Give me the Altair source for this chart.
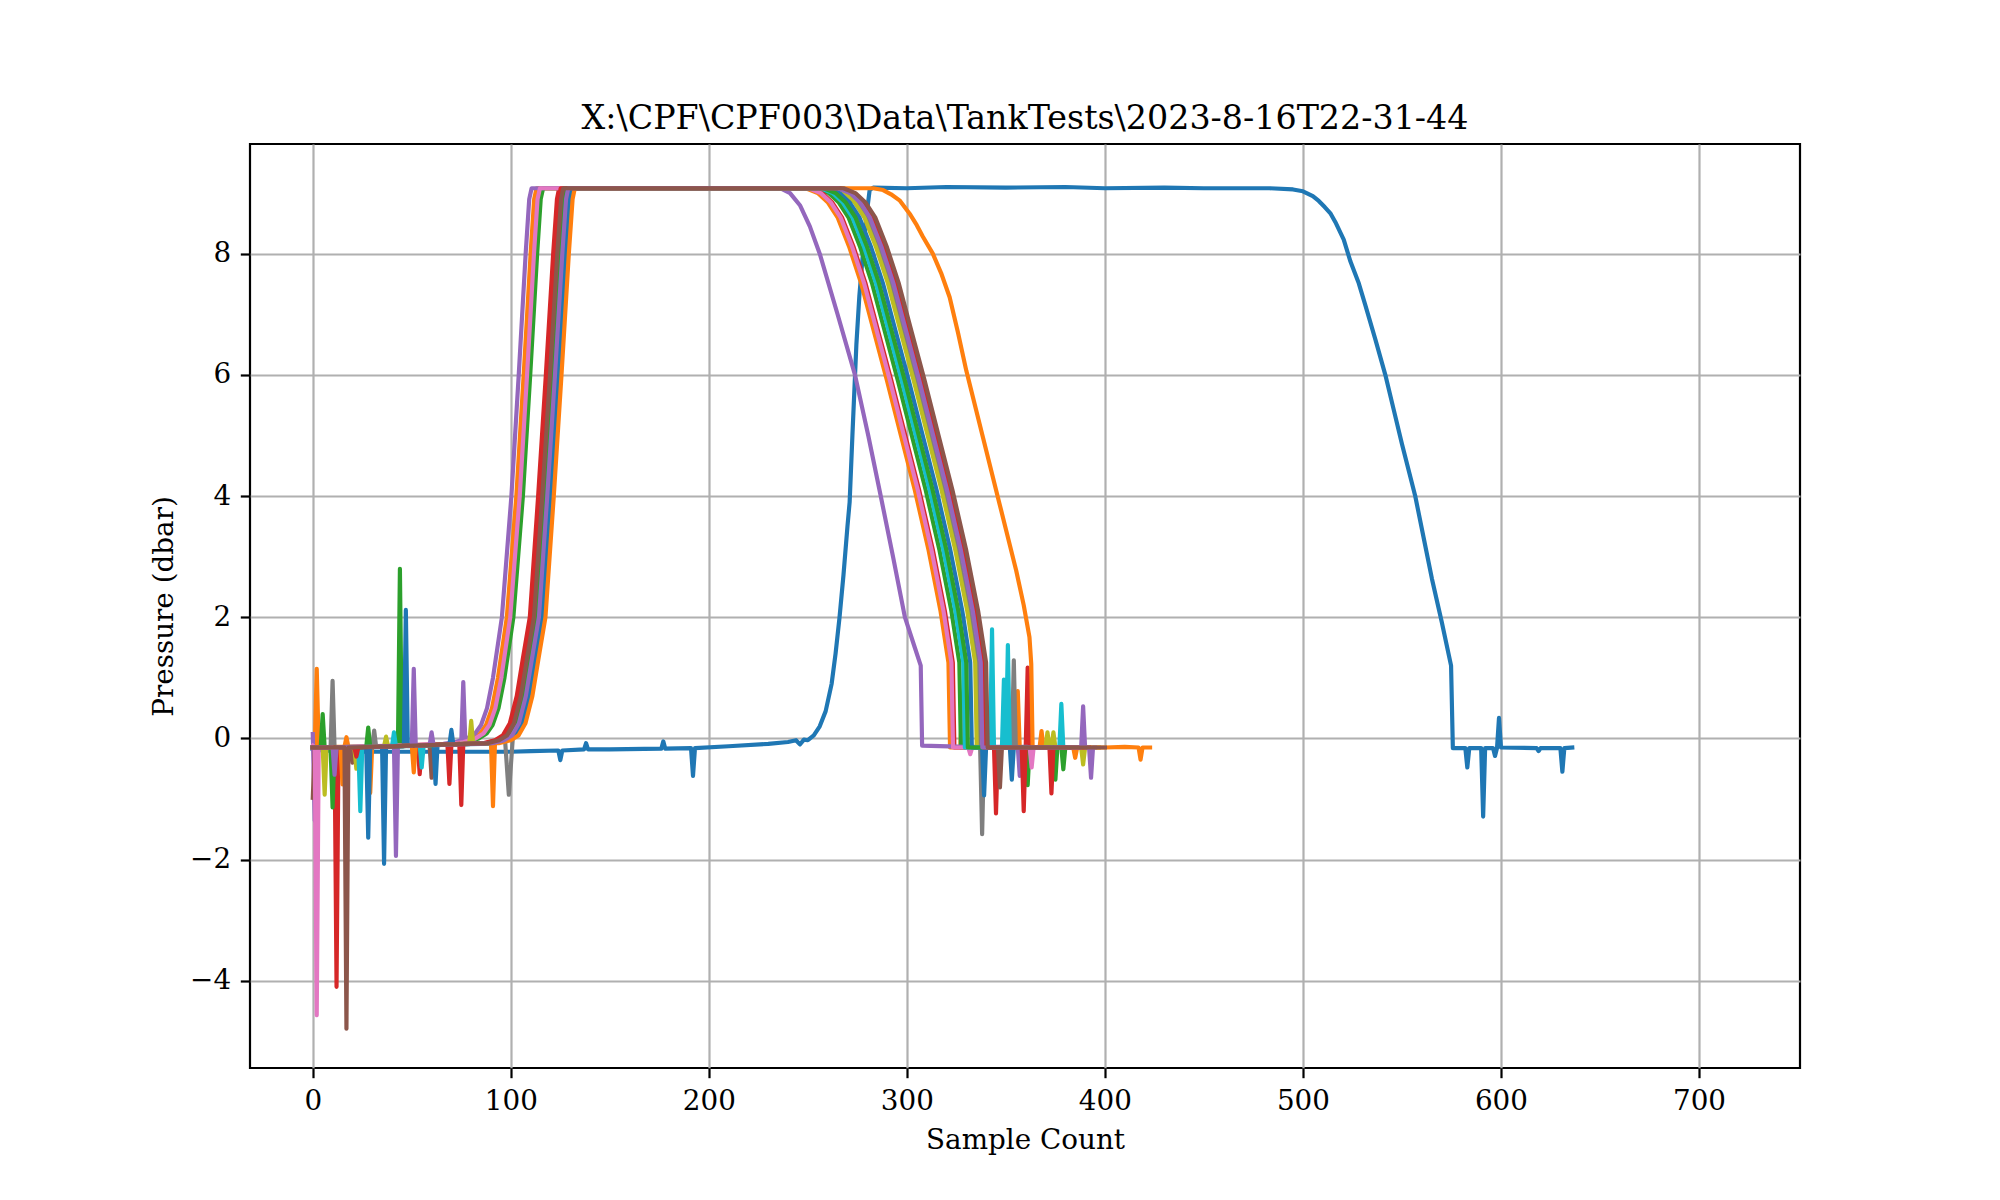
import altair as alt
import pandas as pd

TITLE = "X:\\CPF\\CPF003\\Data\\TankTests\\2023-8-16T22-31-44"
X_LABEL = "Sample Count"
Y_LABEL = "Pressure (dbar)"
TICKS_X = [0, 100, 200, 300, 400, 500, 600, 700]
TICKS_Y = [-4, -2, 0, 2, 4, 6, 8]
X_DOMAIN = [-31.7, 751.0]
Y_DOMAIN = [-5.44, 9.81]

COLORS = ["#1f77b4", "#ff7f0e", "#2ca02c", "#d62728", "#9467bd", "#8c564b",
          "#e377c2", "#7f7f7f", "#bcbd22", "#17becf", "#1f77b4", "#ff7f0e",
          "#2ca02c", "#d62728", "#9467bd", "#8c564b"]

S00 = [(0,-0.18),(5,-0.2),(20,-0.22),(40,-0.22),(60,-0.22),(80,-0.22),(100,-0.22),(110,-0.21),(124,-0.2),(125,-0.36),(126,-0.2),(137,-0.18),(138,-0.08),(139,-0.18),(150,-0.18),(176,-0.17),(177,-0.05),(178,-0.17),(191,-0.16),(192,-0.62),(193,-0.16),(210,-0.13),(230,-0.09),(240,-0.06),(244,-0.03),(246,-0.1),(248,-0.02),(250,-0.03),(253,0.05),(256,0.2),(259,0.45),(262,0.9),(264,1.4),(266,2.0),(268,2.7),(270,3.5),(271.1,3.9),(272.5,5.0),(274.5,6.5),(276,7.3),(277.8,8.0),(279.5,8.6),(281.2,9.05),(283,9.09),(300,9.08),(320,9.1),(350,9.09),(380,9.1),(400,9.08),(430,9.09),(450,9.08),(483,9.08),(495,9.06),(500,9.03),(505,8.95),(508,8.87),(511,8.77),(514,8.66),(516.4,8.52),(520.6,8.23),(524,7.87),(528.2,7.51),(531.5,7.15),(536.6,6.58),(541.6,6.0),(545.8,5.43),(550,4.86),(556.7,4.0),(560.9,3.32),(565.1,2.64),(570.1,1.92),(574.8,1.2),(575.7,-0.16),(582,-0.16),(583,-0.48),(584,-0.16),(590,-0.16),(591,-1.29),(592,-0.16),(596,-0.16),(597,-0.29),(598,-0.16),(599,0.34),(600,-0.15),(618,-0.16),(619,-0.21),(620,-0.16),(630,-0.16),(631,-0.55),(632,-0.16),(636,-0.15)]
S01 = [(0,-0.15),(1,-0.15),(2,1.15),(3,-0.15),(10,-0.14),(16,-0.14),(17,0.02),(18,-0.14),(28,-0.13),(29,-0.9),(30,-0.13),(45,-0.12),(60,-0.1),(68,-0.09),(74,-0.06),(80.5,0.0),(84.5,0.08),(87.5,0.22),(90.5,0.5),(93.5,1.0),(98,2.0),(102.8,4.0),(106.5,6.0),(110,8.0),(111.8,8.9),(113,9.08),(150,9.07),(200,9.08),(249,9.08),(255,9.0),(260,8.85),(265,8.6),(271,8.1),(277,7.5),(283.5,6.7),(290,5.9),(297,5.0),(304,4.1),(311,3.1),(317,2.1),(321,1.25),(321.8,-0.15),(327,-0.15),(328,0.59),(329,-0.15),(340,-0.15),(355,-0.15),(356,0.78),(357,-0.15),(367,-0.15),(368,0.12),(369,-0.15),(374,-0.15),(375,-0.32),(376,-0.15),(385,-0.15)]
S02 = [(0,-0.15),(4,-0.15),(5,0.4),(6,-0.15),(20,-0.14),(43,-0.13),(44,2.8),(45,-0.13),(60,-0.11),(71.8,-0.09),(77.8,-0.06),(83.8,0.0),(87.8,0.08),(90.8,0.22),(93.8,0.5),(96.8,1.0),(101.3,2.0),(106.1,4.0),(109.8,6.0),(113.3,8.0),(115.1,8.9),(116.3,9.08),(160,9.08),(210,9.07),(254.5,9.08),(260.5,9.0),(265.5,8.85),(270.5,8.6),(276.5,8.1),(282.5,7.5),(289,6.7),(295.5,5.9),(302.5,5.0),(309.5,4.1),(316.5,3.1),(322.5,2.1),(326.5,1.25),(327.3,-0.15),(345,-0.15),(360,-0.15),(361,-0.77),(362,-0.15),(378,-0.15),(379,-0.51),(380,-0.15),(383,-0.15)]
S03 = [(0,-0.15),(11,-0.15),(12,-4.1),(13,-0.15),(30,-0.14),(53,-0.12),(54,-0.59),(55,-0.12),(70,-0.1),(86,-0.08),(92,-0.03),(96,0.05),(99.5,0.25),(103,0.7),(106,1.3),(109.6,2.0),(113.8,4.0),(117.7,6.0),(121.4,8.0),(123.3,8.9),(124.4,9.08),(170,9.08),(220,9.08),(251.2,9.08),(257.2,9.0),(262.2,8.85),(267.2,8.6),(273.2,8.1),(279.2,7.5),(285.7,6.7),(292.2,5.9),(299.2,5.0),(306.2,4.1),(313.2,3.1),(319.2,2.1),(323.2,1.25),(324,-0.15),(344,-0.15),(345,-1.24),(346,-0.15),(360,-0.15),(361,1.17),(362,-0.15),(380,-0.15)]
S04 = [(0,0.07),(1,-1.36),(2,-0.15),(20,-0.14),(41,-0.13),(42,-1.94),(43,-0.13),(60,-0.1),(66,-0.09),(72,-0.06),(75,-0.03),(76,0.93),(77,-0.01),(78,0.0),(82,0.08),(85,0.22),(88,0.5),(91,1.0),(95.5,2.0),(100.3,4.0),(104,6.0),(107.5,8.0),(109.3,8.9),(110.5,9.08),(150,9.08),(200,9.08),(236,9.08),(241,9.0),(246,8.8),(251,8.45),(256,8.0),(265,7.0),(273.8,6.0),(280.5,5.0),(286.8,4.0),(293,3.0),(299,2.0),(304,1.5),(307,1.2),(307.7,-0.12),(330,-0.14),(356,-0.14),(357,-0.62),(358,-0.14),(360,-0.14)]
S05 = [(0,-0.98),(1,-0.15),(10,-0.15),(11,-0.37),(12,-0.15),(19,-0.15),(20,-0.4),(21,-0.15),(40,-0.13),(59,-0.11),(60,-0.65),(61,-0.11),(75,-0.09),(87.6,-0.08),(93.6,-0.03),(97.6,0.05),(101.1,0.25),(104.6,0.7),(107.6,1.3),(111.2,2.0),(115.4,4.0),(119.3,6.0),(123,8.0),(124.9,8.9),(126,9.08),(180,9.08),(230,9.08),(267,9.08),(273,9.0),(278,8.85),(283,8.6),(289,8.1),(295,7.5),(301.5,6.7),(308,5.9),(315,5.0),(322,4.1),(329,3.1),(335,2.1),(339,1.25),(339.8,-0.15),(346,-0.15),(347,-0.81),(348,-0.15),(390,-0.15)]
S06 = [(0,-0.12),(1,-0.15),(2,-4.57),(3,-0.15),(20,-0.14),(40,-0.12),(60,-0.1),(70.2,-0.09),(76.2,-0.06),(82.2,0.0),(86.2,0.08),(89.2,0.22),(92.2,0.5),(95.2,1.0),(99.7,2.0),(104.5,4.0),(108.2,6.0),(111.7,8.0),(113.5,8.9),(114.7,9.08),(160,9.08),(210,9.08),(250.5,9.08),(256.5,9.0),(261.5,8.85),(266.5,8.6),(272.5,8.1),(278.5,7.5),(285,6.7),(291.5,5.9),(298.5,5.0),(305.5,4.1),(312.5,3.1),(318.5,2.1),(322.5,1.25),(323.3,-0.15),(331,-0.15),(332,-0.26),(333,-0.15),(362,-0.15),(363,-0.48),(364,-0.15),(375,-0.15)]
S07 = [(0,-0.15),(9,-0.15),(10,0.95),(11,-0.15),(30,-0.14),(31,0.13),(32,-0.14),(60,-0.11),(80,-0.09),(91.1,-0.08),(97.1,-0.03),(99,-0.93),(101.1,0.05),(104.6,0.25),(108.1,0.7),(111.1,1.3),(114.7,2.0),(118.9,4.0),(122.8,6.0),(126.5,8.0),(128.4,8.9),(129.5,9.08),(180,9.08),(230,9.08),(263.5,9.08),(269.5,9.0),(274.5,8.85),(279.5,8.6),(285.5,8.1),(291.5,7.5),(298,6.7),(304.5,5.9),(311.5,5.0),(318.5,4.1),(325.5,3.1),(331.5,2.1),(335.5,1.25),(336.3,-0.15),(337,-0.15),(338,-1.58),(339,-0.15),(353,-0.15),(354,1.29),(355,-0.15),(388,-0.15)]
S08 = [(0,-0.15),(5,-0.15),(6,-0.93),(7,-0.15),(21,-0.15),(22,-0.5),(23,-0.15),(36,-0.13),(37,0.03),(38,-0.13),(60,-0.11),(79,-0.09),(80,0.29),(81,-0.09),(89.1,-0.08),(95.1,-0.03),(99.1,0.05),(102.6,0.25),(106.1,0.7),(109.1,1.3),(112.7,2.0),(116.9,4.0),(120.8,6.0),(124.5,8.0),(126.4,8.9),(127.5,9.08),(180,9.08),(230,9.08),(262.5,9.08),(268.5,9.0),(273.5,8.85),(278.5,8.6),(284.5,8.1),(290.5,7.5),(297,6.7),(303.5,5.9),(310.5,5.0),(317.5,4.1),(324.5,3.1),(330.5,2.1),(334.5,1.25),(335.3,-0.15),(370,-0.15),(371,0.1),(372,-0.15),(373,-0.15),(374,0.1),(375,-0.15),(388,-0.15),(389,-0.43),(390,-0.15),(397,-0.15)]
S09 = [(0,-0.15),(23,-0.15),(24,-1.2),(25,-0.15),(40,-0.13),(41,0.1),(42,-0.13),(54,-0.12),(55,-0.48),(56,-0.12),(75,-0.09),(88.6,-0.08),(94.6,-0.03),(98.6,0.05),(102.1,0.25),(105.6,0.7),(108.6,1.3),(112.2,2.0),(116.4,4.0),(120.3,6.0),(124,8.0),(125.9,8.9),(127,9.08),(180,9.08),(230,9.08),(256.5,9.08),(262.5,9.0),(267.5,8.85),(272.5,8.6),(278.5,8.1),(284.5,7.5),(291,6.7),(297.5,5.9),(304.5,5.0),(311.5,4.1),(318.5,3.1),(324.5,2.1),(328.5,1.25),(329.3,-0.15),(342,-0.15),(343,1.8),(344,-0.15),(348,-0.15),(349,0.97),(350,-0.15),(351,1.54),(352,-0.15),(377,-0.15),(378,0.57),(379,-0.15),(386,-0.15)]
S10 = [(0,-0.15),(27,-0.15),(28,-1.64),(29,-0.15),(35,-0.14),(36,-2.07),(37,-0.14),(46,-0.13),(47,2.12),(48,-0.13),(61,-0.11),(62,-0.75),(63,-0.11),(69,-0.1),(70,0.14),(71,-0.1),(85,-0.09),(92.3,-0.08),(98.3,-0.03),(102.3,0.05),(105.8,0.25),(109.3,0.7),(112.3,1.3),(115.9,2.0),(120.1,4.0),(124,6.0),(127.7,8.0),(129.6,8.9),(130.7,9.08),(180,9.08),(230,9.08),(260,9.08),(266,9.0),(271,8.85),(276,8.6),(282,8.1),(288,7.5),(294.5,6.7),(301,5.9),(308,5.0),(315,4.1),(322,3.1),(328,2.1),(332,1.25),(332.8,-0.15),(338,-0.15),(339,-0.94),(340,-0.15),(352,-0.15),(353,-0.68),(354,-0.15),(382,-0.15)]
S11 = [(0,-0.15),(14,-0.15),(15,-0.76),(16,-0.15),(50,-0.12),(51,-0.56),(52,-0.12),(75,-0.09),(90,-0.08),(91,-1.12),(92,-0.08),(93.9,-0.08),(99.9,-0.03),(103.9,0.05),(107.4,0.25),(110.9,0.7),(113.9,1.3),(117.5,2.0),(121.7,4.0),(125.6,6.0),(129.3,8.0),(131.2,8.9),(132.3,9.08),(180,9.08),(230,9.08),(283,9.08),(288,9.05),(292,8.98),(296.3,8.88),(301.4,8.66),(305,8.47),(308.1,8.28),(313.1,8.0),(317.3,7.68),(321.6,7.28),(325.8,6.7),(330,6.07),(338.4,4.97),(346.8,3.87),(355.2,2.77),(359,2.2),(361.9,1.67),(362.8,1.23),(363.5,-0.15),(384,-0.15),(385,-0.32),(386,-0.15),(400,-0.15),(410,-0.14),(417,-0.15),(418,-0.35),(419,-0.15),(422.8,-0.15)]
S12 = [(0,-0.15),(9,-0.15),(10,-1.14),(11,-0.15),(27,-0.14),(28,0.18),(29,-0.14),(60,-0.11),(80,-0.09),(89.7,-0.08),(95.7,-0.03),(99.7,0.05),(103.2,0.25),(106.7,0.7),(109.7,1.3),(113.3,2.0),(117.5,4.0),(121.4,6.0),(125.1,8.0),(127,8.9),(128.1,9.08),(180,9.08),(230,9.08),(258,9.08),(264,9.0),(269,8.85),(274,8.6),(280,8.1),(286,7.5),(292.5,6.7),(299,5.9),(306,5.0),(313,4.1),(320,3.1),(326,2.1),(330,1.25),(330.8,-0.15),(374,-0.15),(375,-0.68),(376,-0.15),(380,-0.15)]
S13 = [(0,-0.15),(21,-0.15),(22,-0.3),(23,-0.15),(50,-0.12),(68,-0.1),(69,-0.75),(70,-0.1),(74,-0.09),(75,-1.1),(76,-0.09),(86.8,-0.08),(92.8,-0.03),(96.8,0.05),(100.3,0.25),(103.8,0.7),(106.8,1.3),(110.4,2.0),(114.6,4.0),(118.5,6.0),(122.2,8.0),(124.1,8.9),(125.2,9.08),(180,9.08),(230,9.08),(266,9.08),(272,9.0),(277,8.85),(282,8.6),(288,8.1),(294,7.5),(300.5,6.7),(307,5.9),(314,5.0),(321,4.1),(328,3.1),(334,2.1),(338,1.25),(338.8,-0.15),(358,-0.15),(359,-1.2),(360,-0.15),(372,-0.15),(373,-0.91),(374,-0.15),(392,-0.15)]
S14 = [(0,-0.15),(10,-0.15),(11,-0.6),(12,-0.15),(50,-0.12),(51,1.15),(52,-0.12),(59,-0.11),(60,0.1),(61,-0.11),(80,-0.09),(90.6,-0.08),(96.6,-0.03),(100.6,0.05),(104.1,0.25),(107.6,0.7),(110.6,1.3),(114.2,2.0),(118.4,4.0),(122.3,6.0),(126,8.0),(127.9,8.9),(129,9.08),(180,9.08),(230,9.08),(265.3,9.08),(271.3,9.0),(276.3,8.85),(281.3,8.6),(287.3,8.1),(293.3,7.5),(299.8,6.7),(306.3,5.9),(313.3,5.0),(320.3,4.1),(327.3,3.1),(333.3,2.1),(337.3,1.25),(338.1,-0.15),(388,-0.15),(389,0.53),(390,-0.15),(392,-0.15),(393,-0.65),(394,-0.15),(395,-0.15)]
S15 = [(0,-0.15),(16,-0.15),(17,-4.79),(18,-0.15),(40,-0.13),(70,-0.1),(88.1,-0.08),(94.1,-0.03),(98.1,0.05),(101.6,0.25),(105.1,0.7),(108.1,1.3),(111.7,2.0),(115.9,4.0),(119.8,6.0),(123.5,8.0),(125.4,8.9),(126.5,9.08),(180,9.08),(230,9.08),(268,9.08),(274,9.0),(279,8.85),(284,8.6),(290,8.1),(296,7.5),(302.5,6.7),(309,5.9),(316,5.0),(323,4.1),(330,3.1),(336,2.1),(340,1.25),(340.8,-0.15),(370,-0.15),(400,-0.15)]

SERIES = [S00, S01, S02, S03, S04, S05, S06, S07, S08, S09, S10, S11, S12, S13, S14, S15]

FONT = "DejaVu Serif"

x_enc = alt.X("x:Q",
              scale=alt.Scale(domain=X_DOMAIN, nice=False, zero=False),
              axis=alt.Axis(values=TICKS_X, title=X_LABEL, format="d"))
y_enc = alt.Y("y:Q",
              scale=alt.Scale(domain=Y_DOMAIN, nice=False, zero=False),
              axis=alt.Axis(values=TICKS_Y, title=Y_LABEL, format="d"))

layers = []
for pts, col in zip(SERIES, COLORS):
    df = pd.DataFrame(pts, columns=["x", "y"])
    df["o"] = range(len(df))
    layers.append(
        alt.Chart(df).mark_line(color=col, strokeWidth=4.17, strokeCap="square",
                                strokeJoin="round", clip=True)
        .encode(x=x_enc, y=y_enc, order="o:Q")
    )

chart = alt.layer(*layers).properties(
    width=1550, height=924,
    background="white",
    title=alt.TitleParams(TITLE, font=FONT, fontSize=33.3, fontWeight="normal",
                          color="black", anchor="middle", frame="group",
                          baseline="alphabetic", offset=-18),
    autosize=alt.AutoSizeParams(type="none"),
    padding={"left": 242, "top": 136, "right": 192, "bottom": 124},
).configure_view(
    stroke="black", strokeWidth=2.2
).configure_axis(
    domain=False,
    grid=True, gridColor="#b0b0b0", gridWidth=2.2, gridOpacity=1,
    ticks=True, tickColor="black", tickWidth=2.2, tickSize=9.7,
    labelFont=FONT, labelFontSize=27.8, labelColor="black", labelPadding=9.7,
    titleFont=FONT, titleFontSize=27.8, titleFontWeight="normal", titleColor="black",
    titlePadding=11,
)

chart.save("out.html", embed_options={"renderer": "svg", "actions": False})
